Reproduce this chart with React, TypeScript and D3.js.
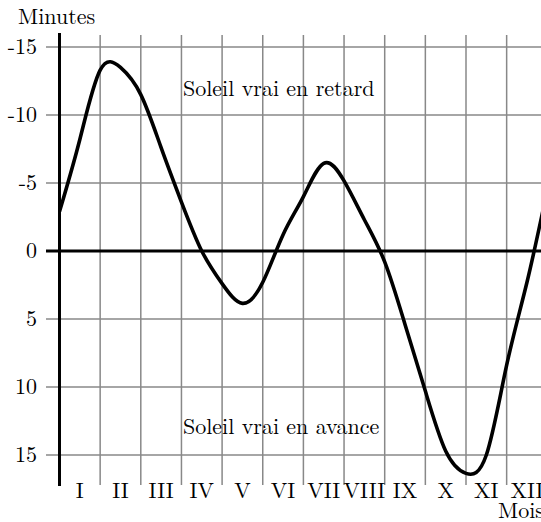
import React from "react";
import * as d3 from "d3";

// Equation of time, every half month (negative = sun late)
const monthPos = [0, 0.5, 1, 1.5, 2, 2.5, 3, 3.5, 4, 4.5, 5, 5.5, 6, 6.5, 7, 7.5, 8, 8.5, 9, 9.5, 10, 10.5, 11, 11.5, 12];
const minutes = [-2.9, -8.2, -13.3, -13.5, -11.5, -7.6, -3.6, 0, 2.4, 3.85, 2.3, -1.2, -4.0, -6.45, -5.15, -2.3, 0.8, 5.4, 10.3, 14.7, 16.35, 15.0, 8.4, 2.3, -4.5];

const monthLabels = ["I", "II", "III", "IV", "V", "VI", "VII", "VIII", "IX", "X", "XI", "XII"];
const yTicks = [-15, -10, -5, 0, 5, 10, 15];
const yTickLabels = ["-15", "-10", "-5", "0", "5", "10", "15"];

const W = 541;
const H = 522;
const FONT = "Latin Modern Roman";
const FS = 22;

export default function App() {
  const x = d3.scaleLinear().domain([0, 12]).range([59.5, 59.5 + 40.65 * 12]);
  const y = d3.scaleLinear().domain([-15, 15]).range([47, 455]);

  const pts: [number, number][] = monthPos.map((m, i) => [m, minutes[i]]);
  const line = d3
    .line<[number, number]>()
    .x((d) => x(d[0]))
    .y((d) => y(d[1]))
    .curve(d3.curveNatural);

  const gridTop = 35;
  const gridBottom = 485;
  const boundaries = d3.range(1, 13);

  return (
    <svg width={W} height={H} style={{ position: "absolute", left: 0, top: 0, background: "#fff" }}>
      <defs>
        <clipPath id="plotArea">
          <rect x={61} y={0} width={W - 61} height={H} />
        </clipPath>
      </defs>
      {boundaries.map((m) => (
        <line key={"v" + m} x1={x(m)} x2={x(m)} y1={gridTop} y2={gridBottom} stroke="#888" strokeWidth={1.5} />
      ))}
      {yTicks.map((t) =>
        t === 0 ? null : (
          <line key={"h" + t} x1={46} x2={W} y1={y(t)} y2={y(t)} stroke="#888" strokeWidth={1.5} />
        )
      )}
      <line x1={46} x2={W} y1={y(0)} y2={y(0)} stroke="#000" strokeWidth={3} />
      <line x1={x(0)} x2={x(0)} y1={33} y2={486} stroke="#000" strokeWidth={3} />

      <path
        d={line(pts) || ""}
        fill="none"
        stroke="#000"
        strokeWidth={3.6}
        strokeLinejoin="round"
        clipPath="url(#plotArea)"
      />

      {yTicks.map((t, i) => (
        <text key={"yl" + t} x={37} y={y(t) + 7} textAnchor="end" fontFamily={FONT} fontSize={FS} fill="#000">
          {yTickLabels[i]}
        </text>
      ))}

      {monthLabels.map((lab, i) => (
        <text key={"m" + i} x={x(i + 0.5)} y={498} textAnchor="middle" fontFamily={FONT} fontSize={FS} fill="#000">
          {lab}
        </text>
      ))}

      <text x={18} y={24} fontFamily={FONT} fontSize={FS} fill="#000">
        Minutes
      </text>
      <text x={498} y={518} fontFamily={FONT} fontSize={FS} fill="#000">
        Mois
      </text>
      <text x={183} y={96} fontFamily={FONT} fontSize={FS} fill="#000">
        Soleil vrai en retard
      </text>
      <text x={183} y={434} fontFamily={FONT} fontSize={FS} fill="#000">
        Soleil vrai en avance
      </text>
    </svg>
  );
}
